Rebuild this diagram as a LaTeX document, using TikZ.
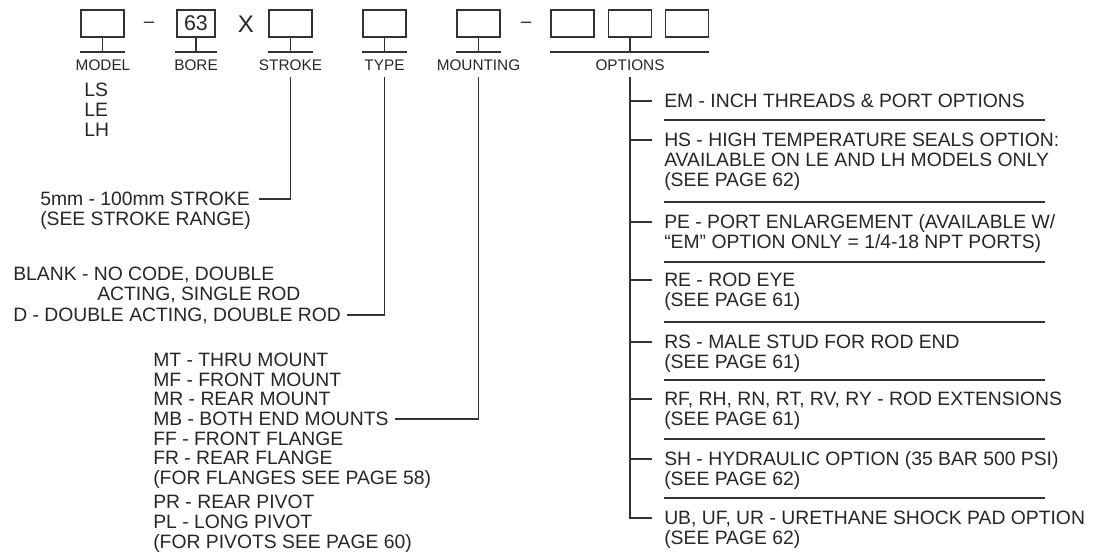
\documentclass[tikz,border=0pt]{standalone}
\usepackage{fontspec}
\setmainfont{Liberation Sans}
\definecolor{ink}{HTML}{262626}
\definecolor{rule}{HTML}{333333}
\begin{document}
\begin{tikzpicture}[x=0.75pt,y=-0.75pt,
  ln/.style={line width=0.9pt, draw=rule},
  bx/.style={draw=rule, line width=0.9pt, minimum width=32.25pt, minimum height=20.25pt, inner sep=0pt, text=ink},
  lab/.style={font=\fontsize{11.5}{12}\selectfont, inner sep=0pt, text height=8.3pt, text depth=0pt, text=ink},
  tl/.style={font=\fontsize{14.5}{15}\selectfont, inner sep=0pt, text height=10.4pt, text depth=0pt, anchor=west, text=ink},
]
\useasboundingbox (0,0) rectangle (1105,558);
\coordinate (u52) at (0,52);
% ---- top code boxes
\node[bx] (bmodel) at (102.5,23.5) {};
\node[bx, minimum width=28.5pt, font=\fontsize{16}{16}\selectfont] (bbore) at (196,23.5) {63};
\node[bx] (bstroke) at (290.5,23.5) {};
\node[bx] (btype) at (384.5,23.5) {};
\node[bx] (bmount) at (478.5,23.5) {};
\node[bx] (bopt1) at (572.5,23.5) {};
\node[bx] (bopt2) at (630,23.5) {};
\node[bx] (bopt3) at (687,23.5) {};
\node[font=\fontsize{14}{14}\selectfont, inner sep=0pt, text=ink] (dasha) at (149,25) {–};
\node[font=\fontsize{18}{18}\selectfont, inner sep=0pt, text=ink] (times) at (246,24) {X};
\node[font=\fontsize{14}{14}\selectfont, inner sep=0pt, text=ink] (dashb) at (526,25) {–};
% ---- stems and underlines
\foreach \b in {bmodel,bstroke,btype,bmount}{
  \draw[ln] (\b.south) -- (\b.south |- u52);
  \draw[ln] (\b.south west |- u52) -- (\b.south east |- u52);
}
\draw[ln] (bbore.south) -- (bbore.south |- u52);
\draw[ln] ([xshift=-16.1pt]bbore.south |- u52) -- ([xshift=16.1pt]bbore.south |- u52);
\draw[ln] (bopt2.south) -- (bopt2.south |- u52);
\draw[ln] (bopt1.south west |- u52) -- (bopt3.south east |- u52);
% ---- labels
\node[lab] (lmodel) at (103,65) {MODEL};
\node[lab] (lbore) at (196,65) {BORE};
\node[lab] (lstroke) at (290.5,65) {STROKE};
\node[lab] (ltype) at (384.5,65) {TYPE};
\node[lab] (lmount) at (478.5,65) {MOUNTING};
\node[lab] (lopt) at (630,65) {OPTIONS};
% ---- model list
\node[tl] (ls) at (84,90) {LS};
\node[tl] (le) at (84,110) {LE};
\node[tl] (lh) at (84,130) {LH};
% ---- stroke
\node[tl] (st1) at (40,199) {5mm - 100mm STROKE};
\node[tl] (st2) at (40,219) {(SEE STROKE RANGE)};
\draw[ln] ([yshift=-5pt]lstroke.south) |- ([xshift=7pt]st1.east);
% ---- type
\node[tl] (ty1) at (13,274) {BLANK - NO CODE, DOUBLE};
\node[tl] (ty2) at (97,294) {ACTING, SINGLE ROD};
\node[tl] (ty3) at (13,315) {D - DOUBLE ACTING, DOUBLE ROD};
\draw[ln] ([yshift=-5pt]ltype.south) |- ([xshift=4pt]ty3.east);
% ---- mounting
\node[tl] (mt1) at (153,360) {MT - THRU MOUNT};
\node[tl] (mt2) at (153,380) {MF - FRONT MOUNT};
\node[tl] (mt3) at (153,399) {MR - REAR MOUNT};
\node[tl] (mt4) at (153,419) {MB - BOTH END MOUNTS};
\node[tl] (mt5) at (153,439) {FF - FRONT FLANGE};
\node[tl] (mt6) at (153,458) {FR - REAR FLANGE};
\node[tl] (mt7) at (153,478) {(FOR FLANGES SEE PAGE 58)};
\node[tl] (mt8) at (153,502) {PR - REAR PIVOT};
\node[tl] (mt9) at (153,522) {PL - LONG PIVOT};
\node[tl] (mt10) at (153,542) {(FOR PIVOTS SEE PAGE 60)};
\draw[ln] ([yshift=-5pt]lmount.south) |- ([xshift=5pt]mt4.east);
% ---- options
\node[tl] (em1) at (664,101) {EM - INCH THREADS \& PORT OPTIONS};
\node[tl] (hs1) at (664,140) {HS - HIGH TEMPERATURE SEALS OPTION:};
\node[tl] (hs2) at (664,160) {AVAILABLE ON LE AND LH MODELS ONLY};
\node[tl] (hs3) at (664,180) {(SEE PAGE 62)};
\node[tl] (pe1) at (664,222) {PE - PORT ENLARGEMENT (AVAILABLE W/};
\node[tl] (pe2) at (664,242) {“EM” OPTION ONLY = 1/4-18 NPT PORTS)};
\node[tl] (re1) at (664,280) {RE - ROD EYE};
\node[tl] (re2) at (664,300) {(SEE PAGE 61)};
\node[tl] (rs1) at (664,342) {RS - MALE STUD FOR ROD END};
\node[tl] (rs2) at (664,362) {(SEE PAGE 61)};
\node[tl] (rf1) at (664,399) {RF, RH, RN, RT, RV, RY - ROD EXTENSIONS};
\node[tl] (rf2) at (664,419) {(SEE PAGE 61)};
\node[tl] (sh1) at (664,459) {SH - HYDRAULIC OPTION (35 BAR 500 PSI)};
\node[tl] (sh2) at (664,479) {(SEE PAGE 62)};
\node[tl] (ub1) at (664,518) {UB, UF, UR - URETHANE SHOCK PAD OPTION};
\node[tl] (ub2) at (664,538) {(SEE PAGE 62)};
\draw[ln] ([yshift=-5pt]lopt.south) |- ([xshift=-9pt]ub1.west);
\foreach \n in {em1,hs1,pe1,re1,rs1,rf1,sh1}{
  \draw[ln] (\n.west -| lopt.south) -- ([xshift=-9pt]\n.west);
}
\foreach \y in {120,202,262,322,380,439,498}{
  \draw[ln] (664,\y) -- (1045,\y);
}
\end{tikzpicture}
\end{document}
